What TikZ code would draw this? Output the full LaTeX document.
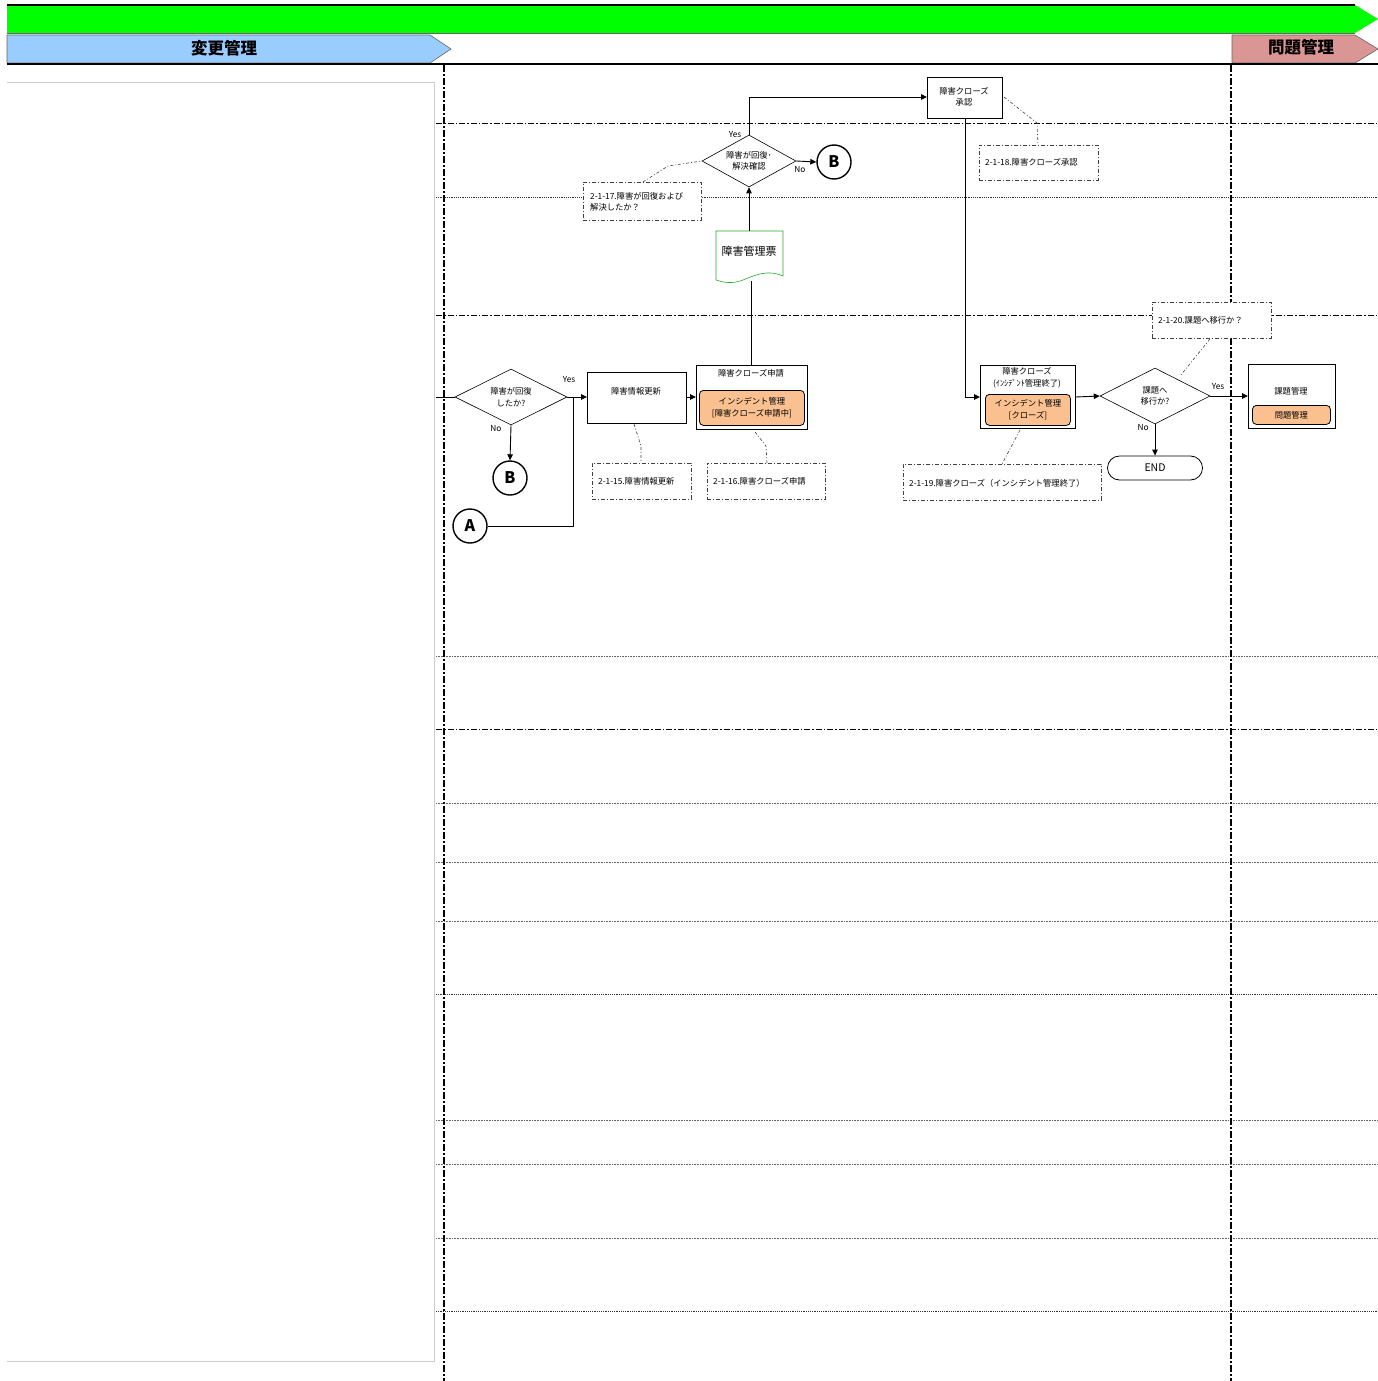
\documentclass[tikz,border=0pt]{standalone}
\usepackage{fontspec}
\setmainfont{Noto Sans CJK JP}
\usetikzlibrary{arrows.meta,shapes.geometric,calc}
\definecolor{hdrgreen}{RGB}{0,255,0}
\definecolor{hdrblue}{RGB}{153,204,255}
\definecolor{hdrpink}{RGB}{218,150,148}
\definecolor{orangefill}{RGB}{250,192,143}
\definecolor{docgreen}{RGB}{40,170,40}
\begin{document}
\begin{tikzpicture}[x=1pt,y=-1pt,
  lbl/.style={font=\fontsize{8.3}{11.5}\selectfont,inner sep=0pt,align=center},
  boxp/.style={draw,line width=0.6pt,fill=white},
  inner/.style={draw,line width=0.8pt,fill=orangefill,rounded corners=4pt},
  note/.style={draw=black!75,line width=0.6pt,dash pattern=on 4pt off 2pt on 1pt off 2pt,fill=white},
  notelink/.style={draw=black!75,line width=0.6pt,dash pattern=on 3pt off 2pt on 1pt off 2pt},
  flow/.style={draw,line width=0.9pt},
  arr/.style={flow,-{Triangle[length=6pt,width=5.5pt]}},
  dec/.style={draw,diamond,aspect=2,line width=0.6pt,inner sep=0pt,fill=white},
  conn/.style={draw,circle,line width=1.4pt,minimum size=34pt,inner sep=0pt,font=\fontsize{16}{16}\selectfont\bfseries},
  vsep/.style={line width=2pt,dash pattern=on 7pt off 2pt on 2pt off 2pt},
  hdd/.style={line width=0.8pt,dash pattern=on 6pt off 2pt on 1.5pt off 2pt},
  hdot/.style={line width=1pt,black!60,dash pattern=on 1pt off 0.6pt},
  hdotthin/.style={line width=0.6pt,black!80,dash pattern=on 1.2pt off 1pt},
]
\useasboundingbox (0,0) rectangle (1378,1381);
% header bars
\fill[hdrgreen] (7,5) -- (1355,5) -- (1378,19) -- (1355,33) -- (7,33) -- cycle;
\draw[line width=1.5pt] (7,5) -- (1355,5);
\draw[black!60,line width=0.5pt] (7,33) -- (1355,33);
\draw[fill=hdrblue,draw=black!60,line width=0.6pt] (7,35) -- (430,35) -- (451,49) -- (430,63) -- (7,63) -- cycle;
\node[font=\fontsize{16.5}{16.5}\selectfont\bfseries,inner sep=0pt] (hchg) at (224,48) {変更管理};
\draw[fill=hdrpink,draw=black!60,line width=0.6pt] (1232,35) -- (1355,35) -- (1378,49) -- (1355,63) -- (1232,63) -- cycle;
\node[font=\fontsize{16.5}{16.5}\selectfont\bfseries,inner sep=0pt] (hprb) at (1301,47) {問題管理};
\draw[line width=1.8pt] (7,64) -- (1378,64);
% left panel
\draw[black!20,line width=1pt] (7,82) -- (434,82) -- (434,1361) -- (7,1361);
% horizontal separators
\draw[hdd] (436,123) -- (1378,123);
\draw[hdotthin] (436,197) -- (1378,197);
\draw[hdd] (436,315) -- (1378,315);
\draw[hdot] (436,656) -- (1378,656);
\draw[hdd] (436,729) -- (1378,729);
\draw[hdot] (436,803) -- (1378,803);
\draw[hdot] (436,862) -- (1378,862);
\draw[hdot] (436,921) -- (1378,921);
\draw[hdotthin] (436,994) -- (1378,994);
\draw[hdot] (436,1120) -- (1378,1120);
\draw[hdot] (436,1164) -- (1378,1164);
\draw[hdot] (436,1238) -- (1378,1238);
\draw[hdotthin] (436,1311) -- (1378,1311);
% vertical separators
\draw[vsep] (444,65) -- (444,1381);
\draw[vsep] (1231,65) -- (1231,1381);

% ---- nodes ----
\node[dec,minimum width=112pt,minimum height=56pt] (d1) at (511,397) {};
\node[lbl] at (511,397) {障害が回復\\したか?};
\node[boxp,minimum width=99pt,minimum height=51pt,anchor=north west] (b1) at (587,372) {};
\node[lbl] at (636,391) {障害情報更新};
\node[conn] (cB1) at (510,478) {B};
\node[conn] (cA) at (470,526) {A};

\node[boxp,minimum width=111pt,minimum height=64pt,anchor=north west] (b2) at (696,365) {};
\node[lbl] at (751,373) {障害クローズ申請};
\node[inner,minimum width=105pt,minimum height=35pt,anchor=north west,lbl] (b2i) at (699,390) {インシデント管理\\{[}障害クローズ申請中{]}};

% document
\draw[docgreen,line width=0.6pt,fill=white] (716,231) -- (783,231) -- (783,276) .. controls (765,268) and (750,278) .. (740,281) .. controls (730,284) and (722,282) .. (716,280) -- cycle;
\node[inner sep=0pt,font=\fontsize{11}{12}\selectfont] (doc) at (749,251) {障害管理票};
\coordinate (doctop) at (749,231);
\coordinate (docbot) at (751,281);

\node[dec,minimum width=94pt,minimum height=52pt] (d2) at (749,161) {};
\node[lbl] at (749,161) {障害が回復･\\解決確認};
\node[conn] (cB2) at (834,162) {B};

\node[boxp,minimum width=75pt,minimum height=41pt,anchor=north west] (b3) at (927,77) {};
\node[lbl] at (964,97) {障害クローズ\\承認};

\node[boxp,minimum width=95pt,minimum height=63pt,anchor=north west] (b4) at (980,365) {};
\node[lbl] at (1027,378) {障害クローズ\\(ｲﾝｼﾃﾞﾝﾄ管理終了)};
\node[inner,minimum width=85pt,minimum height=31pt,anchor=north west,lbl] (b4i) at (985,394) {インシデント管理\\{[}クローズ{]}};

\node[dec,minimum width=110pt,minimum height=56pt] (d3) at (1155,396) {};
\node[lbl] at (1155,396) {課題へ\\移行か?};

\node[boxp,minimum width=87pt,minimum height=64pt,anchor=north west] (b5) at (1248,364) {};
\node[lbl] at (1291,391) {課題管理};
\node[inner,minimum width=78pt,minimum height=19pt,anchor=north west,lbl] (b5i) at (1252,405) {問題管理};

\node[draw,line width=0.8pt,rounded corners=12pt,minimum width=95pt,minimum height=24pt,font=\fontsize{10.5}{11}\selectfont,fill=white] (end) at (1155,468) {END};

% labels
\node[lbl] (y1) at (569,380) {Yes};
\node[lbl] (n1) at (496,429) {No};
\node[lbl] (y2) at (735,135) {Yes};
\node[lbl] (n2) at (800,170) {No};
\node[lbl] (y3) at (1218,387) {Yes};
\node[lbl] (n3) at (1143,428) {No};

% ---- connectors ----
\coordinate (inL) at (436,397);
\draw[flow] (inL) -- (d1.west);
\draw[arr] (d1.east) -- (b1.west |- d1.east);
\draw[arr] (d1.south) -- (cB1.north);
\coordinate (jA) at (573,397);
\draw[flow] (cA.east) -- (573,526) -- (jA);
\draw[arr] (b1.east |- 0,397) -- (b2.west |- 0,397);
\draw[flow] (b2.north -| 751,0) -- (docbot);
\draw[arr] (doctop) -- (d2.south);
\draw[arr] (d2.north) -- (749,97) -- (b3.west |- 0,97);
\draw[arr] (d2.east) -- (cB2.west);
\draw[arr] (b3.south -| 965,0) -- (965,397) -- (b4.west |- 0,397);
\draw[arr] (b4.east |- 0,397) -- (d3.west);
\draw[arr] (d3.east) -- (b5.west |- d3.east);
\draw[arr] (d3.south) -- (end.north);

% ---- notes ----
\node[note,minimum width=118pt,minimum height=38pt,anchor=north west] (n17) at (583,182) {};
\node[lbl,anchor=west,align=left,text width=112pt] at (590,202) {2-1-17.障害が回復および\\解決したか？};
\draw[notelink] (643,182) -- (668,166) -- (d2.west);

\node[note,minimum width=119pt,minimum height=35pt,anchor=north west] (n18) at (979,145) {};
\node[lbl,anchor=west] at (985,162) {2-1-18.障害クローズ承認};
\draw[notelink] (1004,97) -- (1037,123) -- (1038,145);

\node[note,minimum width=99pt,minimum height=36pt,anchor=north west] (n15) at (592,463) {};
\node[lbl,anchor=west] at (598,481) {2-1-15.障害情報更新};
\draw[notelink] (634,424) -- (641,446) -- (641,463);

\node[note,minimum width=118pt,minimum height=36pt,anchor=north west] (n16) at (707,463) {};
\node[lbl,anchor=west] at (713,481) {2-1-16.障害クローズ申請};
\draw[notelink] (755,432) -- (766,446) -- (767,463);

\node[note,minimum width=198pt,minimum height=36pt,anchor=north west] (n19) at (903,464) {};
\node[lbl,anchor=west] at (909,483) {2-1-19.障害クローズ（インシデント管理終了）};
\draw[notelink] (1020,430) -- (1002,464);

\node[note,minimum width=119pt,minimum height=36pt,anchor=north west] (n20) at (1152,302) {};
\node[lbl,anchor=west] at (1158,320) {2-1-20.課題へ移行か？};
\draw[notelink] (1210,339) -- (1180,376);
\end{tikzpicture}
\end{document}
